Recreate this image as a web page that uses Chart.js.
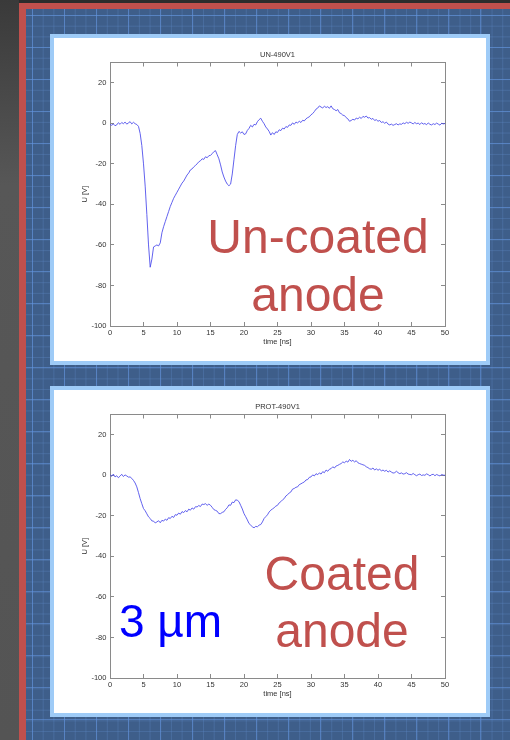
<!DOCTYPE html>
<html>
<head>
<meta charset="utf-8">
<script src="https://cdn.jsdelivr.net/npm/chart.js@4.4.1/dist/chart.umd.min.js"></script>
<style>
  html, body { margin: 0; padding: 0; }
  body {
    width: 510px; height: 740px; position: relative; overflow: hidden;
    background: #2c2c2c;
    font-family: "Liberation Sans", Arial, sans-serif;
  }
  #side {
    position: absolute; left: 0; top: 0; width: 19px; height: 740px;
    background: linear-gradient(#3a3a3a, #575757 25%, #545454);
  }
  #frame {
    position: absolute; left: 19px; top: 3px; width: 491px; height: 737px;
    box-sizing: border-box;
    border-left: 7px solid #c0504d; border-top: 6px solid #c0504d;
    background-color: #3e5e8a;
    background-image:
      linear-gradient(90deg, rgba(100,150,225,0.55) 1px, transparent 1px),
      linear-gradient(rgba(100,150,225,0.55) 1px, transparent 1px),
      linear-gradient(90deg, rgba(100,145,210,0.28) 1px, transparent 1px),
      linear-gradient(rgba(100,145,210,0.28) 1px, transparent 1px);
    background-size: 32px 32px, 32px 32px, 10.7px 10.7px, 10.7px 10.7px;
    background-position: 6px 6px, 6px 6px, 6px 6px, 6px 6px;
  }
  .panel {
    position: absolute; left: 50px; width: 432px; height: 323px;
    border: 4px solid #9ecbf7; background: #fff;
  }
  .panel canvas { display: block; }
  .note {
    position: absolute; color: #c0504d; font-size: 48px; text-align: center;
    white-space: nowrap;
  }
  #mu { position: absolute; color: #0000ff; font-size: 46px; line-height: 46px; white-space: nowrap; }
</style>
</head>
<body>
<div id="side"></div>
<div id="frame"></div>

<div class="panel" style="top:34px"><canvas id="chart-uncoated" width="432" height="323"></canvas></div>
<div class="panel" style="top:386px"><canvas id="chart-coated" width="432" height="323"></canvas></div>

<div class="note" style="left:168px; width:300px; top:208px; line-height:58px">Un-coated<br>anode</div>
<div class="note" style="left:192px; width:300px; top:545px; line-height:57px">Coated<br>anode</div>
<div id="mu" style="left:119px; top:598px">3 µm</div>

<script>
// sampling step of the scope traces [ns]
const timeStep = 0.25;

// U [V], un-coated anode, t = 0 .. 50 ns
const uncoated = [
  -0.5, -1.0, -0.3, -1.2, -0.8, 0.3, -0.5, 0.4, -0.2, 0.6, -0.4, 0.2, 0.8, -0.3, 0.5, -0.2, -0.6, -1.5, -5, -11,
  -20, -31, -45, -60, -71, -67, -61, -60.5, -60, -60.5, -59, -54, -51, -48.5, -46, -43.5, -41, -39, -37, -35.5,
  -34, -32.5, -31, -29.5, -28.5, -27, -25.5, -24.5, -23, -22.5, -21.5, -20.8, -20, -19, -18.5, -17.5, -17.8, -16.5, -17, -16,
  -15.8, -15, -14, -13.5, -15.5, -17.5, -20.5, -24, -26.5, -28.5, -30, -30.8, -30, -25, -18, -11, -5.5, -4, -4.8, -4.2,
  -5.5, -5.2, -3.5, -2.5, -1, -1.8, -0.5, -0.8, 0.8, 1.8, 2.5, 1, -0.2, -1.8, -2.8, -4, -5.8, -4.6, -5.5, -4.2,
  -4.5, -3.2, -3.6, -2.4, -2.8, -1.6, -2, -0.8, -1, 0.2, -0.5, 0.6, 0.2, 1, 0.4, 1.5, 1.2, 2.2, 2.8, 3.2,
  4.2, 4.8, 5.8, 7, 7.5, 8.6, 8, 7.6, 8.4, 7.8, 8.2, 7.4, 8.6, 7.2, 6.8, 6.2, 6.8, 5.2, 4.8, 4,
  3.8, 2.8, 2.2, 1, 1.4, 2, 1.6, 2.6, 2.2, 3, 2.4, 3.4, 3, 3.6, 2.6, 2.8, 2, 2.4, 1.4, 1.8,
  1, 1.4, 0.4, 0.8, 0, 0.6, -0.4, -0.8, -0.4, -1, -0.6, -0.2, -0.8, -0.3, -0.5, 0.2, -0.2, 0.5, 0, 0.6,
  0.2, -0.3, 0.4, -0.2, 0.1, -0.6, 0.3, -0.4, -0.1, -0.7, 0.2, -0.5, -0.8, -0.2, -0.6, 0.1, -0.4, -0.9, 0, -0.3,
  -0.1
];

// U [V], coated anode (3 µm), t = 0 .. 50 ns
const coated = [
  0.3, -0.5, 0.6, -0.8, -0.2, -1.2, -0.4, 0.5, -0.6, 0.2, -0.3, -0.9, -0.8, -1.5, -2.5, -3.8, -5.7, -8.5, -11.5, -14,
  -16.4, -17.5, -19, -20.5, -21.3, -22.5, -22.6, -23.5, -23, -22.4, -23.4, -22.2, -22.6, -21.6, -22.2, -20.9, -21.3, -20.2, -20.8, -19.4,
  -19.7, -18.6, -19.2, -17.9, -18.4, -17.4, -18, -16.7, -17.2, -16.1, -16.7, -15.5, -15.6, -14.9, -15.4, -14.2, -14.4, -14, -14.8, -14.2,
  -14.8, -15.8, -16.9, -17.3, -17.7, -18.9, -18.9, -18.3, -18, -16.8, -16, -14.6, -14.8, -13.2, -13.5, -12.1, -12.3, -13, -14.8, -16.6,
  -18.9, -20.4, -22, -23.8, -24.6, -25.4, -25.9, -25.2, -25.4, -24.6, -24.3, -23, -21.3, -20.4, -19.5, -18.1, -17.2, -16.6, -16, -15.2,
  -14.8, -13.6, -13, -12.1, -11.5, -10.2, -9.6, -8.7, -8.2, -6.8, -6.5, -5.9, -5.7, -4.6, -4.2, -3.7, -3.3, -2.3, -2.1, -1,
  -0.8, 0.2, -0.3, 0.8, 0.3, 1.2, 0.6, 1.8, 1.3, 2.6, 2, 3, 3.3, 4.2, 3.6, 4.6, 4.9, 5.4, 5.8, 6.6,
  6.2, 7, 6.5, 7.8, 6.9, 7.4, 6.6, 7.2, 6.2, 5.8, 5.5, 5.2, 4.9, 4.2, 3.8, 3.2, 3, 3.6, 2.6, 3.2,
  2.5, 3, 2.2, 2.6, 2, 2.5, 1.6, 2.2, 1.6, 1.1, 1.3, 2, 1.3, 0.8, 1.2, 0.6, 0.8, 1.3, 0.6, 0.4,
  0.3, 0.9, 0.3, -0.2, 0.3, 0.6, -0.1, 0.2, 0, 0.7, 0.3, -0.3, 0.3, 0.5, -0.2, 0.4, 0, -0.3, 0.4, 0.1,
  0
];

// axis limits and tick spacing
const timeRange = [0, 50];
const timeTickStep = 5;
const voltRange = [-100, 30];
const voltTickStep = 20;

const axisGrey = '#8a8a8a';
const textGrey = '#333';
const smallFont = { family: 'Liberation Sans, Arial, sans-serif', size: 7.5 };

function axisOpts(position, range, step, labels, title, fitSize) {
  return {
    type: 'linear',
    position: position,
    min: range[0],
    max: range[1],
    border: { color: axisGrey, width: 1 },
    grid: { drawOnChartArea: false, color: axisGrey, tickLength: -4 },
    ticks: {
      display: labels,
      stepSize: step,
      includeBounds: false,
      color: textGrey,
      font: smallFont,
      maxRotation: 0,
      padding: position === 'bottom' ? 6.2 : 7.6
    },
    title: title,
    afterFit: function(scale) {
      if (scale.isHorizontal()) scale.height = fitSize;
      else scale.width = fitSize;
    }
  };
}

function makeChart(canvasId, heading, values) {
  const points = values.map((u, i) => ({ x: i * timeStep, y: u }));
  return new Chart(document.getElementById(canvasId), {
    type: 'line',
    data: {
      datasets: [{
        data: points,
        borderColor: 'rgba(70,70,235,0.85)',
        borderWidth: 1,
        pointRadius: 0,
        tension: 0,
        xAxisID: 'x',
        yAxisID: 'y'
      }]
    },
    options: {
      responsive: false,
      animation: false,
      devicePixelRatio: 1,
      layout: { padding: 0 },
      plugins: {
        legend: { display: false },
        tooltip: { enabled: false },
        title: {
          display: true,
          text: heading,
          fullSize: false,
          color: textGrey,
          font: Object.assign({ weight: 'normal' }, smallFont),
          padding: { top: 12, bottom: 3.5 }
        }
      },
      scales: {
        x: axisOpts('bottom', timeRange, timeTickStep, true,
          { display: true, text: 'time [ns]', color: textGrey, font: smallFont, padding: { top: 0, bottom: 14.2 } }, 35),
        y: axisOpts('left', voltRange, voltTickStep, true,
          { display: true, text: 'U [V]', color: textGrey, font: smallFont, padding: { top: 26.5, bottom: 0 } }, 56),
        x2: axisOpts('top', timeRange, timeTickStep, false, { display: false }, 0),
        y2: axisOpts('right', voltRange, voltTickStep, false, { display: false }, 41)
      }
    }
  });
}

makeChart('chart-uncoated', 'UN-490V1', uncoated);
makeChart('chart-coated', 'PROT-490V1', coated);
</script>
</body>
</html>
